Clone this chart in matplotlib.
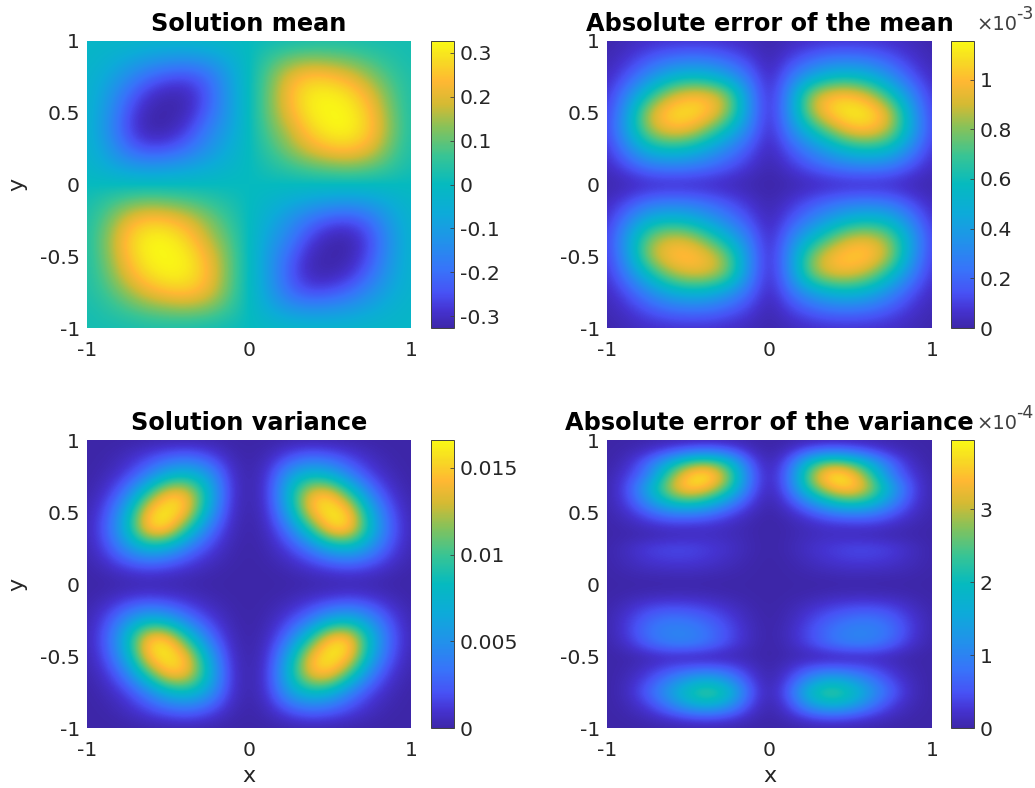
import numpy as np
import matplotlib
matplotlib.use("Agg")
import matplotlib.pyplot as plt
from matplotlib.colors import LinearSegmentedColormap

plt.rcParams['font.family'] = 'DejaVu Sans'

W, H = 1035, 788

# parula style colours
parula_pos = [0, 0.06, 0.12, 0.2, 0.3, 0.4, 0.5, 0.6, 0.7, 0.78, 0.86, 0.93, 1]
parula_rgb = [(0.24, 0.15, 0.66), (0.27, 0.2, 0.82), (0.28, 0.32, 0.96), (0.22, 0.45, 0.98),
              (0.13, 0.57, 0.92), (0.05, 0.67, 0.85), (0.02, 0.73, 0.75), (0.22, 0.77, 0.58),
              (0.53, 0.76, 0.35), (0.83, 0.73, 0.2), (1.0, 0.72, 0.2), (0.97, 0.85, 0.14),
              (0.98, 0.98, 0.08)]

# upper right quadrant, rows y = 1 .. 0, columns x = 0 .. 1 (step 1/8)
mean_quad = [
    [.00, .01, .015, .02, .025, .025, .02, .02, .02],
    [.00, .06, .11, .13, .12, .10, .07, .04, .02],
    [.00, .10, .21, .26, .25, .21, .14, .07, .03],
    [.00, .11, .24, .31, .32, .29, .21, .10, .03],
    [.00, .11, .22, .31, .325, .32, .25, .12, .03],
    [.00, .09, .17, .27, .32, .32, .26, .13, .03],
    [.00, .06, .13, .20, .25, .26, .21, .10, .03],
    [.00, .03, .06, .09, .11, .12, .10, .06, .02],
    [.00, .00, .00, .00, .00, .00, .00, .00, .00],
]
mean_err_quad = [
    [.01, .03, .05, .06, .06, .06, .05, .03, .01],
    [.01, .10, .18, .24, .25, .22, .15, .07, .02],
    [.02, .22, .42, .55, .58, .50, .33, .15, .04],
    [.02, .34, .85, 1.02, 1.03, .90, .62, .30, .07],
    [.02, .36, .85, 1.08, 1.15, 1.12, .92, .42, .09],
    [.02, .28, .55, .80, 1.00, 1.02, .85, .45, .10],
    [.02, .15, .30, .45, .58, .62, .55, .30, .07],
    [.01, .07, .15, .22, .27, .28, .24, .13, .04],
    [.00, .01, .02, .03, .03, .03, .03, .02, .01],
]
# how strong each lobe of the mean error is (UR, UL, LL, LR)
mean_err_lobes = [1.0, 0.97, 0.91, 0.93]
var_quad = [
    [0, 0, 0, 0, 0, 0, 0, 0, 0],
    [0, .5, 2, 3, 2.5, 1.5, .6, .1, 0],
    [0, 1.2, 6, 8.5, 7.5, 4, 1.5, .4, 0],
    [0, 1.3, 8, 14.5, 15.3, 10, 4, 1, .1],
    [0, 1, 6.5, 14.5, 16.6, 15.3, 7, 2, .2],
    [0, .6, 3.5, 9, 15.5, 15.5, 8, 2.5, .3],
    [0, .3, 1.5, 3.5, 6.5, 7.5, 5, 1.8, .2],
    [0, .1, .4, 1, 1.6, 2, 1.5, .6, .1],
    [0, 0, 0, 0, 0, 0, 0, 0, 0],
]
# right half, rows y = 1 .. -1 (step 1/12), columns x = 0 .. 1 (step 1/8)
var_err_half = [
    [0, .02, .04, .05, .05, .04, .03, .01, 0],
    [0, .2, .7, .95, .8, .5, .2, .06, 0],
    [0, .6, 2.2, 3, 2.7, 1.7, .7, .15, 0],
    [0, .8, 2.8, 3.9, 3.7, 2.5, .9, .3, .02],
    [0, .7, 2.4, 3.4, 3.7, 2.9, 1.5, .4, .03],
    [0, .4, 1.3, 2.2, 2.6, 2.2, 1.2, .35, .03],
    [0, .15, .5, .9, 1.1, 1.0, .6, .2, .03],
    [0, .05, .15, .25, .28, .3, .2, .08, .02],
    [0, .05, .12, .15, .12, .1, .05, .04, .01],
    [0, .07, .2, .3, .4, .4, .32, .15, .02],
    [0, .04, .14, .24, .3, .3, .24, .12, .02],
    [0, .02, .06, .1, .13, .12, .1, .06, .01],
    [0, .01, .01, .01, .02, .01, .01, .01, 0],
    [0, .02, .05, .1, .13, .13, .1, .05, .01],
    [0, .06, .2, .35, .45, .48, .38, .17, .02],
    [0, .1, .35, .62, .8, .85, .65, .28, .03],
    [0, .14, .45, .8, 1.05, 1.05, .8, .3, .03],
    [0, .12, .4, .75, .95, .9, .6, .2, .02],
    [0, .06, .07, .08, .1, .15, .1, .03, .01],
    [0, .2, .5, .6, .55, .4, .2, .05, .01],
    [0, .4, 1.2, 1.7, 1.4, .9, .4, .1, 0],
    [0, .6, 2.0, 2.5, 2.1, 1.3, .6, .12, 0],
    [0, .4, 1.4, 1.9, 1.6, .9, .35, .08, 0],
    [0, .15, .45, .6, .5, .3, .12, .03, 0],
    [0, .01, .02, .03, .03, .02, .01, 0, 0],
]

titles = ['Solution mean', 'Absolute error of the mean', 'Solution variance', 'Absolute error of the variance']
xticks = [-1, 0, 1]
xtick_labels = ['-1', '0', '1']
yticks = [-1, -0.5, 0, 0.5, 1]
ytick_labels = ['-1', '-0.5', '0', '0.5', '1']

mean_lim = [-0.3265, 0.3265]
mean_cticks = [-0.3, -0.2, -0.1, 0, 0.1, 0.2, 0.3]
mean_clabels = ['-0.3', '-0.2', '-0.1', '0', '0.1', '0.2', '0.3']
mean_err_lim = [0, 1.155]
mean_err_cticks = [0, 0.2, 0.4, 0.6, 0.8, 1]
mean_err_clabels = ['0', '0.2', '0.4', '0.6', '0.8', '1']
var_lim = [0, 16.6]
var_cticks = [0, 5, 10, 15]
var_clabels = ['0', '0.005', '0.01', '0.015']
var_err_lim = [0, 3.95]
var_err_cticks = [0, 1, 2, 3]
var_err_clabels = ['0', '1', '2', '3']


# put the four lobes together from the one that was read
def four_lobes(quad, signs=(1, 1, 1, 1)):
    q = np.array(quad, dtype=float)
    top = np.hstack([signs[1] * q[:, :0:-1], signs[0] * q])
    # lower left is the upper right turned by 180 degrees, lower right its mirror
    bottom = np.hstack([signs[2] * q[-2::-1, :0:-1], signs[3] * q[-2::-1, :]])
    return np.vstack([top, bottom])


def mirror_half(half):
    h = np.array(half, dtype=float)
    return np.hstack([h[:, :0:-1], h])


def place(x0, y0, x1, y1):
    return [x0 / W, 1 - y1 / H, (x1 - x0) / W, (y1 - y0) / H]


def panel(fig, box, cbox, z, lim, title, cticks, clabels, xlabel=False, ylabel=False, exponent=None):
    ax = fig.add_axes(place(*box))
    ny, nx = z.shape
    dx = 1 / (nx - 1)
    dy = 1 / (ny - 1)
    im = ax.imshow(z, cmap=parula, vmin=lim[0], vmax=lim[1], interpolation='bicubic',
                   extent=[-1 - dx, 1 + dx, -1 - dy, 1 + dy], aspect='auto')
    ax.set_xlim(-1, 1)
    ax.set_ylim(-1, 1)
    ax.set_xticks(xticks)
    ax.set_xticklabels(xtick_labels)
    ax.set_yticks(yticks)
    ax.set_yticklabels(ytick_labels)
    ax.tick_params(length=0, labelsize=14.7, labelcolor='#262626')
    ax.tick_params(axis='x', pad=9)
    ax.tick_params(axis='y', pad=5)
    for s in ax.spines.values():
        s.set_visible(False)
    ax.set_title(title, fontsize=17.3, fontweight='bold', pad=7)
    if xlabel:
        ax.set_xlabel('x', fontsize=16, color='#262626', labelpad=5)
    if ylabel:
        ax.set_ylabel('y', fontsize=16, color='#262626', labelpad=9)

    cax = fig.add_axes(place(*cbox))
    cb = fig.colorbar(im, cax=cax)
    cb.set_ticks(cticks)
    cb.set_ticklabels(clabels)
    cb.ax.tick_params(direction='in', length=3, width=0.6, color='#404040', labelsize=14.7,
                      labelcolor='#262626', pad=4)
    cb.outline.set_linewidth(0.7)
    cb.outline.set_edgecolor('#404040')
    if exponent:
        top = 1 - (cbox[1] - 11) / H
        fig.text((cbox[2] + 2) / W, top, '×10', fontsize=14, color='#404040', va='baseline')
        fig.text((cbox[2] + 42) / W, top + 11 / H, exponent, fontsize=12.5, color='#404040', va='baseline')


parula = LinearSegmentedColormap.from_list('parula', list(zip(parula_pos, parula_rgb)), N=256)

mean_z = four_lobes(mean_quad, signs=(1, -1, 1, -1))
mean_err_z = four_lobes(mean_err_quad)
# scale the lobes by quadrant
mean_err_z[:9, :8] *= mean_err_lobes[1]
mean_err_z[9:, :8] *= mean_err_lobes[2]
mean_err_z[9:, 8:] *= mean_err_lobes[3]
var_z = four_lobes(var_quad)
var_err_z = mirror_half(var_err_half)

fig = plt.figure(figsize=(W / 100, H / 100), dpi=100)

panel(fig, (87, 41, 411, 328), (431, 41, 454, 328), mean_z, mean_lim, titles[0],
      mean_cticks, mean_clabels, ylabel=True)
panel(fig, (607, 41, 932, 328), (951, 41, 974, 328), mean_err_z, mean_err_lim, titles[1],
      mean_err_cticks, mean_err_clabels, exponent='-3')
panel(fig, (87, 440, 411, 728), (431, 440, 454, 728), var_z, var_lim, titles[2],
      var_cticks, var_clabels, xlabel=True, ylabel=True)
panel(fig, (607, 440, 932, 728), (951, 440, 974, 728), var_err_z, var_err_lim, titles[3],
      var_err_cticks, var_err_clabels, xlabel=True, exponent='-4')

fig.savefig('out.png', dpi=100)
